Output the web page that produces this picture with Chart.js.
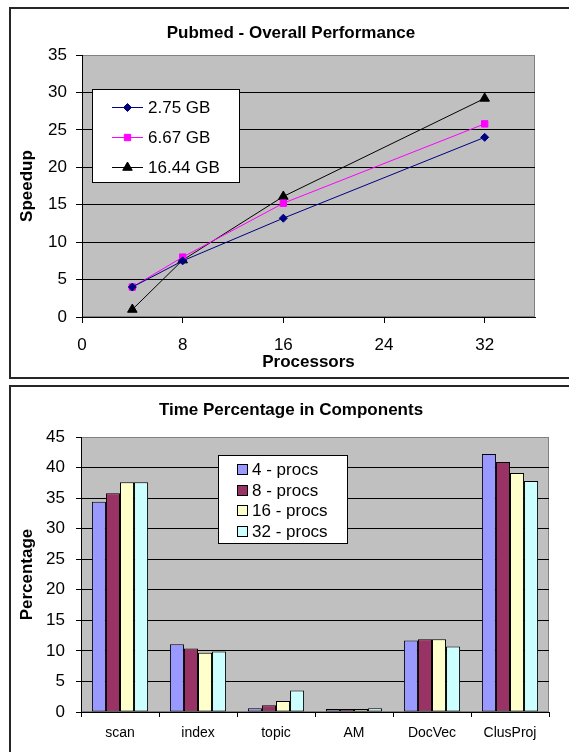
<!DOCTYPE html>
<html>
<head>
<meta charset="utf-8">
<script src="https://cdn.jsdelivr.net/npm/chart.js@4.4.0/dist/chart.umd.min.js"></script>
<style>
  html, body { margin: 0; padding: 0; background: #fff; overflow: hidden; width: 569px; height: 752px; }
  canvas { position: absolute; left: 0; }
  #c1 { top: 0; }
  #c2 { top: 378px; }
  .frame { position: absolute; left: 9px; width: 600px; border: 2px solid #262626; pointer-events: none; }
  #f1 { top: 7px; height: 368px; }
  #f2 { top: 385px; height: 400px; }
</style>
</head>
<body>
<canvas id="c1" width="569" height="378"></canvas>
<canvas id="c2" width="569" height="374"></canvas>
<div class="frame" id="f1"></div>
<div class="frame" id="f2"></div>
<script>
// speedup chart data
let processors = [4, 8, 16, 32];
let sizeLabels = ['2.75 GB', '6.67 GB', '16.44 GB'];
let speedup275 = [4.0, 7.5, 13.2, 24.0];
let speedup667 = [4.0, 8.0, 15.2, 25.8];
let speedup1644 = [1.0, 7.6, 16.1, 29.2];

// component chart data
let components = ['scan', 'index', 'topic', 'AM', 'DocVec', 'ClusProj'];
let procLabels = ['4 - procs', '8 - procs', '16 - procs', '32 - procs'];
let pct4 = [34.4, 11.1, 0.6, 0.5, 11.7, 42.2];
let pct8 = [35.8, 10.4, 1.1, 0.5, 11.9, 40.9];
let pct16 = [37.6, 9.7, 1.8, 0.5, 11.9, 39.1];
let pct32 = [37.6, 9.9, 3.5, 0.6, 10.7, 37.8];

const FONT = '"Liberation Sans", Arial, sans-serif';
Chart.defaults.font.family = FONT;
Chart.defaults.color = '#000';

// grey plot area like the old excel charts
let plotBg = {
    id: 'plotBg',
    beforeDraw(chart) {
        let a = chart.chartArea;
        let ctx = chart.ctx;
        ctx.save();
        ctx.fillStyle = '#c0c0c0';
        ctx.fillRect(a.left, a.top, a.right - a.left, a.bottom - a.top);
        ctx.strokeStyle = '#808080';
        ctx.lineWidth = 1;
        ctx.strokeRect(a.left + 0.5, a.top + 0.5, a.right - a.left - 1, a.bottom - a.top - 1);
        ctx.restore();
    }
};

// center the title over the whole framed box, not just the canvas
let titleSpan = {
    id: 'titleSpan',
    afterLayout(chart) {
        if (chart.titleBlock) {
            chart.titleBlock.left = 0;
            chart.titleBlock.right = 582;
        }
    }
};

let lineLegend = {
    id: 'lineLegend',
    afterDraw(chart, args, o) {
        let ctx = chart.ctx;
        ctx.save();
        ctx.fillStyle = '#fff';
        ctx.fillRect(o.x, o.y, o.w, o.h);
        ctx.strokeStyle = '#000';
        ctx.lineWidth = 1;
        ctx.strokeRect(o.x + 0.5, o.y + 0.5, o.w, o.h);
        ctx.font = '17px ' + FONT;
        ctx.textBaseline = 'middle';
        chart.data.datasets.forEach((ds, i) => {
            let cy = o.y + o.first + i * o.gap;
            ctx.strokeStyle = ds.borderColor;
            ctx.beginPath();
            ctx.moveTo(o.x + 20, cy + 0.5);
            ctx.lineTo(o.x + 51, cy + 0.5);
            ctx.stroke();
            ctx.fillStyle = ds.backgroundColor;
            Chart.helpers.drawPoint(ctx, {pointStyle: ds.pointStyle, radius: ds.pointRadius, rotation: 0, borderWidth: 1}, o.x + 35.5, cy + 0.5);
            ctx.fillStyle = '#000';
            ctx.fillText(ds.label, o.x + 56, cy + 1);
        });
        ctx.restore();
    }
};

let boxLegend = {
    id: 'boxLegend',
    afterDraw(chart, args, o) {
        let ctx = chart.ctx;
        ctx.save();
        ctx.fillStyle = '#fff';
        ctx.fillRect(o.x, o.y, o.w, o.h);
        ctx.strokeStyle = '#000';
        ctx.lineWidth = 1;
        ctx.strokeRect(o.x + 0.5, o.y + 0.5, o.w, o.h);
        ctx.font = '17px ' + FONT;
        ctx.textBaseline = 'middle';
        chart.data.datasets.forEach((ds, i) => {
            let cy = Math.round(o.y + o.first + i * o.gap);
            ctx.fillStyle = ds.backgroundColor;
            ctx.fillRect(o.x + 19, cy - 5, 10, 10);
            ctx.strokeRect(o.x + 19.5, cy - 4.5, 10, 10);
            ctx.fillStyle = '#000';
            ctx.fillText(ds.label, o.x + 34, cy + 1);
        });
        ctx.restore();
    }
};

function gridColor(max) {
    return c => (c.tick && c.tick.value === max) ? '#808080' : '#000';
}

new Chart(document.getElementById('c1'), {
    type: 'line',
    data: {
        datasets: [
            {
                label: sizeLabels[0],
                data: processors.map((p, i) => ({x: p, y: speedup275[i]})),
                borderColor: '#000080', backgroundColor: '#000080',
                pointStyle: 'rectRot', pointRadius: 4, borderWidth: 1
            },
            {
                label: sizeLabels[1],
                data: processors.map((p, i) => ({x: p, y: speedup667[i]})),
                borderColor: '#ff00ff', backgroundColor: '#ff00ff',
                pointStyle: 'rect', pointRadius: 4.5, borderWidth: 1
            },
            {
                label: sizeLabels[2],
                data: processors.map((p, i) => ({x: p, y: speedup1644[i]})),
                borderColor: '#000', backgroundColor: '#000',
                pointStyle: 'triangle', pointRadius: 5.5, borderWidth: 1
            }
        ]
    },
    options: {
        responsive: false,
        animation: false,
        layout: { padding: { left: 0, right: 34, top: 0, bottom: 0 } },
        plugins: {
            legend: { display: false },
            tooltip: { enabled: false },
            title: {
                display: true, text: 'Pubmed - Overall Performance', color: '#000',
                font: { size: 17, weight: 'bold' }, padding: { top: 22.8, bottom: 11.8 }
            },
            lineLegend: { x: 92, y: 89, w: 147, h: 93, first: 18, gap: 30 }
        },
        scales: {
            x: {
                type: 'linear', min: 0, max: 36,
                afterBuildTicks: s => { s.ticks = s.ticks.filter(t => t.value <= 32); },
                afterFit: s => { s.height = 61; },
                ticks: { stepSize: 8, font: { size: 17 }, padding: 12, maxRotation: 0 },
                grid: { drawOnChartArea: false, tickLength: 6, tickColor: '#000' },
                border: { color: '#000' },
                title: { display: true, text: 'Processors', font: { size: 17, weight: 'bold' }, padding: { top: 0, bottom: 5.8 } }
            },
            y: {
                min: 0, max: 35,
                afterFit: s => { s.width = 82; },
                ticks: { stepSize: 5, font: { size: 17 }, padding: 9 },
                grid: { color: gridColor(35), tickLength: 6, tickColor: '#000' },
                border: { color: '#000' },
                title: { display: true, text: 'Speedup', font: { size: 17, weight: 'bold' }, padding: { top: 16.8, bottom: 0 } }
            }
        }
    },
    plugins: [plotBg, titleSpan, lineLegend]
});

new Chart(document.getElementById('c2'), {
    type: 'bar',
    data: {
        labels: components,
        datasets: [
            { label: procLabels[0], data: pct4, backgroundColor: '#9999ff' },
            { label: procLabels[1], data: pct8, backgroundColor: '#993366' },
            { label: procLabels[2], data: pct16, backgroundColor: '#ffffcc' },
            { label: procLabels[3], data: pct32, backgroundColor: '#ccffff' }
        ]
    },
    options: {
        responsive: false,
        animation: false,
        datasets: {
            bar: { borderColor: '#000', borderWidth: 1, borderSkipped: false, categoryPercentage: 0.72, barPercentage: 1 }
        },
        layout: { padding: { left: 0, right: 20, top: 0, bottom: 0 } },
        plugins: {
            legend: { display: false },
            tooltip: { enabled: false },
            title: {
                display: true, text: 'Time Percentage in Components', color: '#000',
                font: { size: 17, weight: 'bold' }, padding: { top: 21.8, bottom: 16.8 }
            },
            boxLegend: { x: 218, y: 77, w: 129, h: 88, first: 14, gap: 20.5 }
        },
        scales: {
            x: {
                afterFit: s => { s.height = 40; },
                ticks: { font: { size: 14 }, padding: 8, maxRotation: 0 },
                grid: { drawOnChartArea: false, tickLength: 5, tickColor: '#000', offset: true },
                border: { color: '#000' }
            },
            y: {
                min: 0, max: 45,
                afterFit: s => { s.width = 81; },
                ticks: { stepSize: 5, font: { size: 17 }, padding: 11 },
                grid: { color: gridColor(45), tickLength: 5, tickColor: '#000' },
                border: { color: '#000' },
                title: { display: true, text: 'Percentage', font: { size: 17, weight: 'bold' }, padding: { top: 16.8, bottom: 0 } }
            }
        }
    },
    plugins: [plotBg, titleSpan, boxLegend]
});
</script>
</body>
</html>
